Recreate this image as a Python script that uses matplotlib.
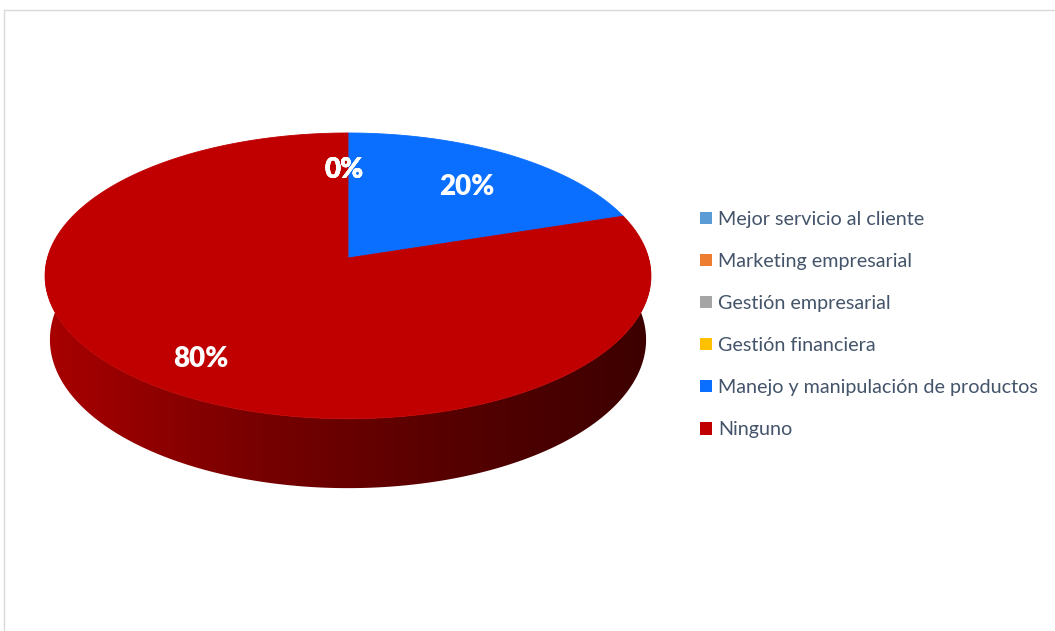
import numpy as np
import matplotlib
matplotlib.use("Agg")
import matplotlib.pyplot as plt
from matplotlib.patches import Polygon, Patch, Rectangle

plt.rcParams['font.family'] = ['Lato', 'DejaVu Sans']

# chart data (percent)
categories = ["Mejor servicio al cliente", "Marketing empresarial",
              "Gestión empresarial", "Gestión financiera",
              "Manejo y manipulación de productos", "Ninguno"]
values = [0, 0, 0, 0, 20, 80]
colors = ["#5B9BD5", "#ED7D31", "#A5A5A5", "#FFC000", "#0A6EFF", "#C00000"]

# 3D view of the pie (perspective camera)
CX, CY = 348.0, 258.0       # pixel position of the pie centre
FOCAL = 2125.0
DIST = 7.07
ELEV = np.radians(27.9)
HEIGHT = 0.2425             # thickness of the disc, in radius units
LABEL_R = 0.75
LABEL_Z = -0.02


def project(phi, z=0.0, r=1.0):
    """Project a point of the disc (angle phi in degrees) to pixel coords."""
    phi = np.radians(np.asarray(phi, dtype=float))
    X = r * np.cos(phi)
    Y = r * np.sin(phi)
    up = Y * np.sin(ELEV) + z * np.cos(ELEV)
    depth = DIST + Y * np.cos(ELEV) - z * np.sin(ELEV)
    return CX + FOCAL * X / depth, CY - FOCAL * up / depth


fig = plt.figure(figsize=(10.55, 6.31), dpi=100)
ax = fig.add_axes([0, 0, 1, 1])
ax.set_xlim(0, 1055)
ax.set_ylim(631, 0)
ax.axis("off")

# chart area border
fig.patches.append(Rectangle((4 / 1055, -0.05), 1.1, 1 - 10 / 631 + 0.05,
                             transform=fig.transFigure, fill=False,
                             edgecolor="#D9D9D9", linewidth=1))

total = float(sum(values))
starts, ends = [], []
angle = 90.0
for v in values:
    sweep = 360.0 * v / total
    starts.append(angle)
    ends.append(angle - sweep)
    angle -= sweep

# side wall: only the front half (180..360 deg) is visible,
# shaded darker towards the right
wall_stops_x = [45, 250, 450, 655]
wall_stops_f = [0.88, 0.63, 0.45, 0.31]
xs = np.linspace(0, 1055, 1055)
shade = np.interp(xs, wall_stops_x, wall_stops_f)
for s, e, col in zip(starts, ends, colors):
    if s == e:
        continue
    lo, hi = min(s, e), max(s, e)
    for shift in (-360, 0, 360):
        a0, a1 = max(lo + shift, 175), min(hi + shift, 365)
        if a1 <= a0:
            continue
        phis = np.linspace(a0, a1, 200)
        tx, ty = project(phis, 0.0)
        bx, by = project(phis[::-1], -HEIGHT)
        verts = np.column_stack([np.r_[tx, bx], np.r_[ty, by]])
        wall = Polygon(verts, closed=True, facecolor="none", edgecolor="none")
        ax.add_patch(wall)
        base = np.array(matplotlib.colors.to_rgb(col))
        grad = np.clip(base[None, :] * shade[:, None], 0, 1)
        img = ax.imshow(grad[None, :, :], extent=(0, 1055, 631, 0),
                        aspect="auto", zorder=1)
        img.set_clip_path(wall)

# top face slices
for s, e, col in zip(starts, ends, colors):
    if s == e:
        continue
    phis = np.linspace(s, e, 300)
    ex, ey = project(phis, 0.0)
    verts = np.column_stack([np.r_[CX, ex], np.r_[CY, ey]])
    ax.add_patch(Polygon(verts, closed=True, facecolor=col,
                         edgecolor=col, linewidth=0.6, zorder=2))

# percentage labels
for s, e, v in zip(starts, ends, values):
    mid = (s + e) / 2.0
    lx, ly = project(mid, LABEL_Z, LABEL_R)
    ax.text(float(lx) - 4, float(ly) + 3, f"{v:.0f}%", color="white",
            fontsize=20, fontweight="heavy", ha="center", va="center",
            zorder=3)

handles = [Patch(facecolor=c, edgecolor="none") for c in colors]
fig.legend(handles, categories, loc="upper left",
           bbox_to_anchor=(700 / 1055, 1 - 211 / 631), frameon=False,
           fontsize=14.2, handlelength=0.6, handleheight=0.6,
           handletextpad=0.32, labelspacing=1.27, labelcolor="#44546A",
           borderpad=0, borderaxespad=0)

fig.savefig("out.png", dpi=100)
